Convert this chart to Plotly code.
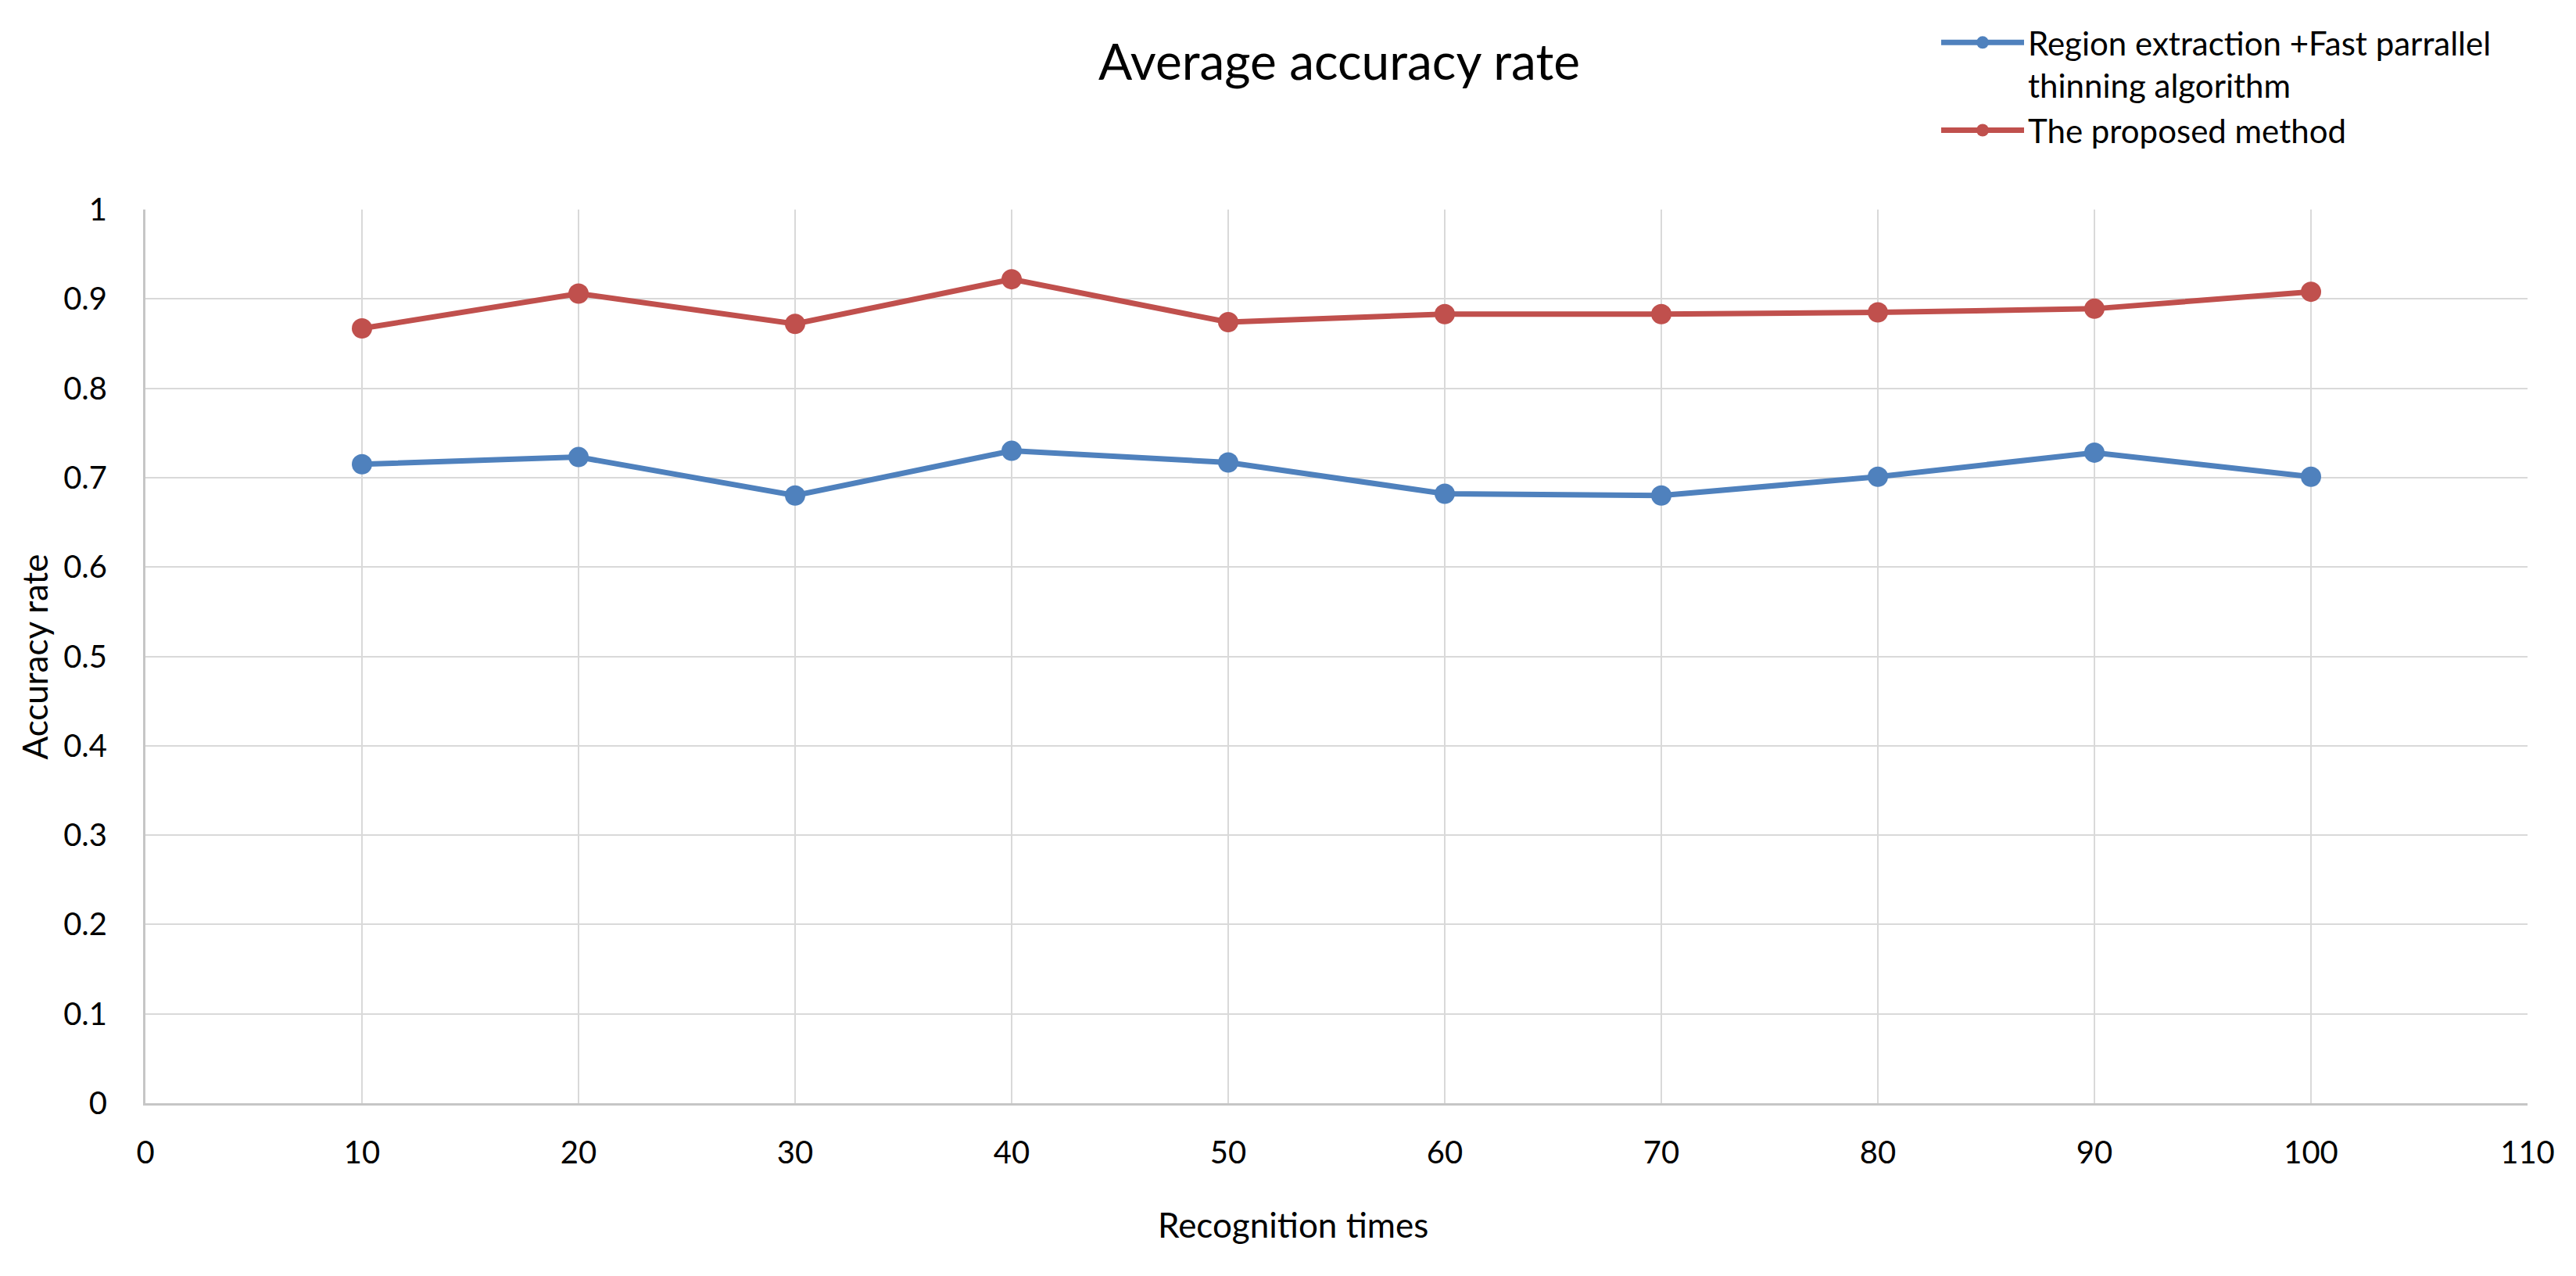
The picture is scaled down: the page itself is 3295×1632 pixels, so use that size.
import plotly.graph_objects as go

recognition_times = [10, 20, 30, 40, 50, 60, 70, 80, 90, 100]
baseline_acc = [0.715, 0.723, 0.680, 0.730, 0.717, 0.682, 0.680, 0.701, 0.728, 0.701]
proposed_acc = [0.867, 0.906, 0.872, 0.922, 0.874, 0.883, 0.883, 0.885, 0.889, 0.908]

series_names = ["Region extraction +Fast parrallel<br>thinning algorithm", "The proposed method"]
series_colors = ["#4F81BD", "#C0504D"]

FONT = "Lato"
PAGE_MARGIN = 8  # default body margin of the html page
PW, PH = 3295, 1632
W, H = PW - 2 * PAGE_MARGIN, PH - 2 * PAGE_MARGIN
# target plot area on the page: x 186..3233, y 261..1411
L = 186 - PAGE_MARGIN
T = 261 - PAGE_MARGIN
R = W - (3233 - PAGE_MARGIN)
B = H - (1411 - PAGE_MARGIN)
pw, ph = W - L - R, H - T - B


def px_x(page_x):
    return (page_x - PAGE_MARGIN - L) / pw


def px_y(page_y):
    return (H - B - (page_y - PAGE_MARGIN)) / ph


fig = go.Figure()
for name, vals, col in zip(series_names, [baseline_acc, proposed_acc], series_colors):
    fig.add_trace(go.Scatter(
        x=recognition_times, y=vals, name=name, mode="lines+markers",
        line=dict(color=col, width=7),
        marker=dict(color=col, size=26, symbol="circle"),
    ))

fig.update_layout(
    width=W, height=H,
    margin=dict(l=L, r=R, t=T, b=B, pad=0),
    paper_bgcolor="white", plot_bgcolor="white",
    font=dict(family=FONT, color="#000000", size=40),
    title=dict(text="Average accuracy rate", font=dict(size=64, family=FONT, color="#000000"),
               x=(1713 - PAGE_MARGIN) / W, xref="container", xanchor="center",
               y=1 - (80 - PAGE_MARGIN) / H, yref="container", yanchor="middle"),
    showlegend=True,
    legend=dict(x=px_x(2478), xanchor="left", y=px_y(12), yanchor="top",
                font=dict(size=42, family=FONT, color="#000000"),
                bgcolor="rgba(0,0,0,0)", borderwidth=0, valign="top",
                itemwidth=106, tracegroupgap=0),
    xaxis=dict(range=[0, 110], dtick=10, tick0=0, showgrid=True, gridcolor="#D9D9D9", gridwidth=2,
               showline=True, linecolor="#C6C6C6", linewidth=3, zeroline=False, ticks="",
               ticklabelstandoff=26, tickfont=dict(size=40, family=FONT, color="#000000")),
    yaxis=dict(range=[0, 1], dtick=0.1, tick0=0, showgrid=True, gridcolor="#D9D9D9", gridwidth=2,
               showline=True, linecolor="#C6C6C6", linewidth=3, zeroline=False, ticks="",
               ticklabelstandoff=38, tickfont=dict(size=40, family=FONT, color="#000000")),
    annotations=[
        dict(text="Recognition times", xref="paper", yref="paper",
             x=px_x(1654), y=px_y(1567), xanchor="center", yanchor="middle",
             showarrow=False, font=dict(size=44, family=FONT, color="#000000")),
        dict(text="Accuracy rate", xref="paper", yref="paper",
             x=px_x(44), y=px_y(837), xanchor="center", yanchor="middle",
             textangle=-90, showarrow=False, font=dict(size=44, family=FONT, color="#000000")),
    ],
)

fig.write_html("out.html")
